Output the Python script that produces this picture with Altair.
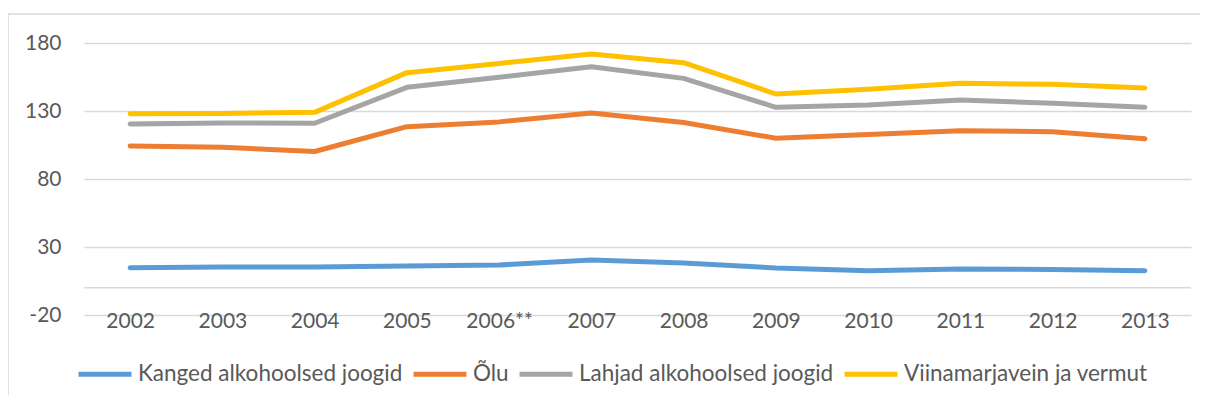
import altair as alt
import pandas as pd

years = ["2002", "2003", "2004", "2005", "2006**", "2007", "2008", "2009", "2010", "2011", "2012", "2013"]
series_names = ["Kanged alkohoolsed joogid", "Õlu", "Lahjad alkohoolsed joogid", "Viinamarjavein ja vermut"]
kanged = [14.7, 15.3, 15.3, 16.0, 16.8, 20.4, 18.2, 14.6, 12.6, 13.9, 13.5, 12.6]
olu = [104.3, 103.3, 100.2, 118.5, 122.0, 128.6, 121.6, 110.0, 112.8, 115.5, 114.8, 109.6]
lahjad = [120.4, 121.2, 121.0, 147.4, 154.8, 162.6, 154.0, 132.7, 134.4, 138.0, 135.7, 132.7]
vein = [128.0, 128.2, 129.0, 158.2, 165.0, 171.9, 165.5, 142.5, 146.0, 150.4, 149.6, 147.0]
y_ticks = [-20, 30, 80, 130, 180]
colors = ["#5b9bd5", "#ed7d31", "#a5a5a5", "#ffc000"]

rows = []
for name, vals in zip(series_names, [kanged, olu, lahjad, vein]):
    for yr, v in zip(years, vals):
        rows.append({"year": yr, "value": v, "series": name, "order": series_names.index(name)})
df = pd.DataFrame(rows)

FONT = "Lato"
TXT = "#595959"
GRID = "#d9d9d9"

W, H = 1107, 272

lines = alt.Chart(df).mark_line(strokeWidth=5, strokeCap="round", strokeJoin="round").encode(
    x=alt.X("year:N", sort=years, scale=alt.Scale(type="point", padding=0.5),
            axis=alt.Axis(title=None, labelAngle=0, ticks=False, tickSize=0, domain=False,
                          grid=False, labelBaseline="alphabetic", labelPadding=12,
                          labelFont=FONT, labelFontSize=21, labelColor=TXT)),
    y=alt.Y("value:Q", scale=alt.Scale(domain=[-20, 180], nice=False, zero=False),
            axis=alt.Axis(title=None, values=y_ticks, ticks=False, tickSize=0, domain=False,
                          grid=True, gridColor=GRID, gridWidth=1.5, labelPadding=23,
                          labelExpr="'' + datum.value",
                          labelFont=FONT, labelFontSize=21, labelColor=TXT)),
    color=alt.Color("series:N", sort=series_names,
                    scale=alt.Scale(domain=series_names, range=colors),
                    legend=alt.Legend(title=None, orient="none", direction="horizontal",
                                      legendX=-8, legendY=302,
                                      symbolType="stroke", symbolSize=2800, symbolStrokeWidth=5,
                                      labelFont=FONT, labelFontSize=22.5, labelColor=TXT,
                                      labelLimit=500, labelOffset=4, columnPadding=0,
                                      symbolOffset=0)),
    order=alt.Order("order:Q"),
    detail="series:N",
)

zero_rule = alt.Chart(pd.DataFrame({"z": [0]})).mark_rule(color=GRID, strokeWidth=1.5).encode(
    y=alt.datum(0)
)

frame_left = alt.Chart(pd.DataFrame({"z": [0]})).mark_rule(color=GRID, strokeWidth=1.5).encode(
    x=alt.value(-76), y=alt.value(-29), y2=alt.value(400)
)
frame_top = alt.Chart(pd.DataFrame({"z": [0]})).mark_rule(color=GRID, strokeWidth=1.5).encode(
    x=alt.value(-76), x2=alt.value(1200), y=alt.value(-29)
)

chart = alt.layer(zero_rule, lines, frame_left, frame_top).properties(
    width=W, height=H,
    autosize=alt.AutoSizeParams(type="none"),
    padding={"left": 76, "top": 35, "right": 9, "bottom": 80},
    background="white",
).configure_view(stroke=None)

chart.save("out.html", embed_options={"renderer": "svg", "actions": False})
